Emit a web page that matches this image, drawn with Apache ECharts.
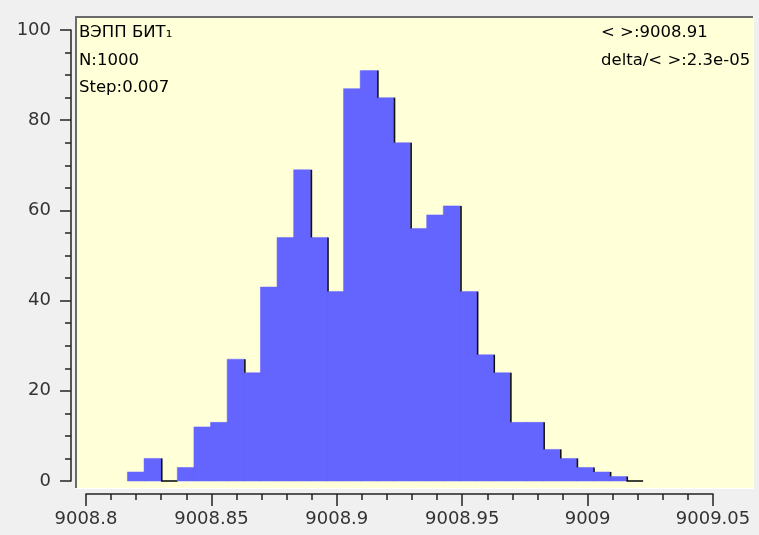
<!DOCTYPE html>
<html>
<head>
<meta charset="utf-8">
<script src="https://cdn.jsdelivr.net/npm/echarts@6/dist/echarts.min.js"></script>
<style>
html,body{margin:0;padding:0;background:#f0f0f0;}
#c{width:759px;height:535px;}
</style>
</head>
<body>
<div id="c"></div>
<script>
// Histogram bin left edges (x units) and bin width
var binLeft = [9008.81663, 9008.82326, 9008.82989, 9008.83652, 9008.84315, 9008.84977,
  9008.85640, 9008.86303, 9008.86966, 9008.87629, 9008.88292, 9008.88955, 9008.89618,
  9008.90281, 9008.90944, 9008.91607, 9008.92269, 9008.92932, 9008.93595, 9008.94258,
  9008.94921, 9008.95584, 9008.96247, 9008.96910, 9008.97573, 9008.98236, 9008.98899,
  9008.99561, 9009.00224, 9009.00887, 9009.01550];
var binWidth = 0.006629;
var counts = [2, 5, 0, 3, 12, 13, 27, 24, 43, 54, 69, 54, 42, 87, 91, 85, 75, 56, 59, 61,
  42, 28, 24, 13, 13, 7, 5, 3, 2, 1, 0];
var xTicks = { min: 9008.8, max: 9009.05, interval: 0.05 };
var yTicks = { min: 0, max: 100, interval: 20 };
var infoLeft = ['ВЭПП БИТ₁', 'N:1000', 'Step:0.007'];
var infoRight = ['< >:9008.91', 'delta/< >:2.3e-05'];

var chart = echarts.init(document.getElementById('c'), null, { renderer: 'canvas' });
var data = binLeft.map(function (l, i) { return [l, l + binWidth, counts[i]]; });

var FONT = '"DejaVu Sans", Verdana, sans-serif';
var BLUE = '#6464ff';
var graphics = [
  { type: 'rect', z: -10, shape: { x: 76, y: 16, width: 678, height: 473 }, style: { fill: '#ffffff' } },
  { type: 'rect', z: -9, shape: { x: 75, y: 16, width: 678, height: 472 }, style: { fill: '#6a6a6a' } },
  { type: 'rect', z: -8, shape: { x: 77, y: 18, width: 676, height: 470 }, style: { fill: '#ffffd8' } }
];
var rowY = [33, 60.5, 88];
infoLeft.forEach(function (t, i) {
  graphics.push({ type: 'text', z: 50, x: 79, y: rowY[i],
    style: { text: t, font: '16.5px ' + FONT, fill: '#000', textVerticalAlign: 'middle', verticalAlign: 'middle' } });
});
infoRight.forEach(function (t, i) {
  graphics.push({ type: 'text', z: 50, x: 601, y: rowY[i],
    style: { text: t, font: '16.5px ' + FONT, fill: '#000', textVerticalAlign: 'middle', verticalAlign: 'middle' } });
});

chart.setOption({
  backgroundColor: '#f0f0f0',
  animation: false,
  color: [BLUE],
  grid: { left: 86, right: 46, top: 30, bottom: 54 },
  graphic: graphics,
  xAxis: {
    type: 'value', min: xTicks.min, max: xTicks.max, interval: xTicks.interval,
    offset: 13,
    axisLine: { show: true, onZero: false, lineStyle: { color: '#222', width: 1.5 } },
    axisTick: { show: true, length: 12, lineStyle: { color: '#222', width: 1.5 } },
    minorTick: { show: true, splitNumber: 5, length: 6, lineStyle: { color: '#222', width: 1.5 } },
    splitLine: { show: false },
    axisLabel: { color: '#333', fontFamily: FONT, fontSize: 18, margin: 16,
      formatter: function (v) { return String(+v.toFixed(2)); } }
  },
  yAxis: {
    type: 'value', min: yTicks.min, max: yTicks.max, interval: yTicks.interval,
    offset: 15,
    axisLine: { show: true, onZero: false, lineStyle: { color: '#222', width: 1.5 } },
    axisTick: { show: true, length: 11, lineStyle: { color: '#222', width: 1.5 } },
    minorTick: { show: true, splitNumber: 4, length: 6, lineStyle: { color: '#222', width: 1.5 } },
    splitLine: { show: false },
    axisLabel: { color: '#333', fontFamily: FONT, fontSize: 18, margin: 20 }
  },
  series: [{
    type: 'custom',
    data: data,
    itemStyle: { color: BLUE, borderWidth: 0, opacity: 1 },
    renderItem: function (params, api) {
      var i = params.dataIndex;
      var l = api.value(0), r = api.value(1), v = api.value(2);
      var p0 = api.coord([l, v]);
      var p1 = api.coord([r, 0]);
      var children = [];
      if (v > 0) {
        children.push({ type: 'rect', shape: { x: p0[0] - 0.3, y: p0[1], width: p1[0] - p0[0] + 0.6, height: p1[1] - p0[1] },
          style: { fill: BLUE, stroke: BLUE, lineWidth: 0.5, opacity: 1 } });
      } else {
        children.push({ type: 'line', shape: { x1: p0[0], y1: p1[1], x2: p1[0], y2: p1[1] },
          style: { stroke: '#111', lineWidth: 1.6 } });
      }
      var next = i + 1 < counts.length ? counts[i + 1] : 0;
      if (next < v) {
        var pn = api.coord([r, next]);
        children.push({ type: 'line', z2: 5, shape: { x1: p1[0] + 0.8, y1: p0[1], x2: p1[0] + 0.8, y2: pn[1] },
          style: { stroke: '#111', lineWidth: 1.6 } });
      }
      return { type: 'group', children: children };
    }
  }]
});
</script>
</body>
</html>
